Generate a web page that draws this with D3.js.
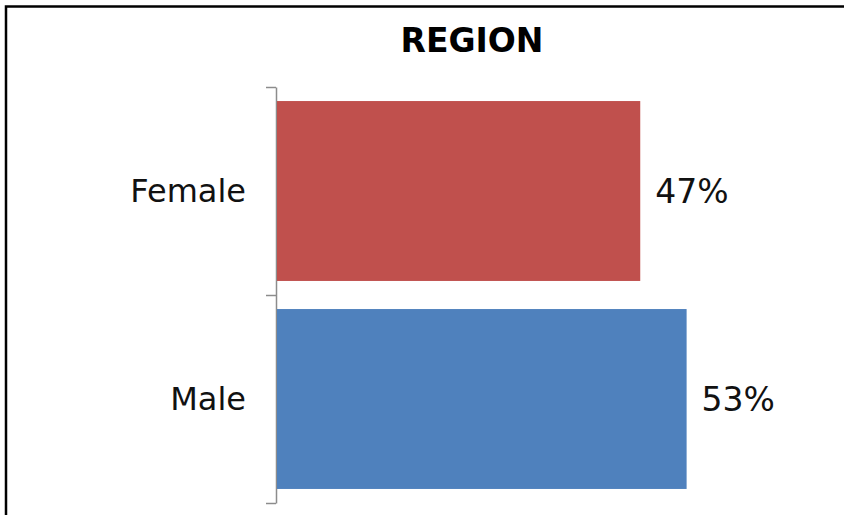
<!DOCTYPE html>
<html>
<head>
<meta charset="utf-8">
<script src="https://cdn.jsdelivr.net/npm/d3@7"></script>
<style>
  body { margin: 0; background: #fff; }
  svg { display: block; font-family: "DejaVu Sans", Verdana, sans-serif; }
</style>
</head>
<body>
<svg id="svg1" width="844" height="515"></svg>
<script>
// data
var categories = ['Female', 'Male'];
var shares = [0.47, 0.53];
var barColors = ['#C0504D', '#4F81BD'];
var title = 'REGION';

var svg = d3.select('svg');

// frame, only top and left edges are visible
svg.append('path')
    .attr('d', 'M6,515 V6.5 H844')
    .attr('fill', 'none')
    .attr('stroke', '#000')
    .attr('stroke-width', 2.5);

var x = d3.scaleLinear().domain([0, 0.7]).range([277, 818]);
var y = d3.scaleBand().domain(categories).range([87, 503]).paddingInner(0.135).paddingOuter(0.0675);

// axis with ticks on the band boundaries
var edges = d3.scaleLinear().domain([0, categories.length]).range([87, 503]);
var axis = svg.append('g')
    .attr('transform', 'translate(276,0)')
    .call(d3.axisLeft(edges).tickValues(d3.range(categories.length + 1)).tickSize(10).tickSizeOuter(0).tickFormat(''));
axis.selectAll('line, path').attr('stroke', '#8c8c8c').attr('stroke-width', 1.5);

svg.selectAll('.bar')
    .data(categories)
    .enter()
    .append('rect')
    .attr('class', 'bar')
    .attr('x', x(0))
    .attr('y', function(d){ return y(d); })
    .attr('width', function(d, i){ return x(shares[i]) - x(0); })
    .attr('height', y.bandwidth())
    .attr('fill', function(d, i){ return barColors[i]; });

// category labels
svg.selectAll('.cat')
    .data(categories)
    .enter()
    .append('text')
    .attr('x', 246)
    .attr('y', function(d){ return y(d) + y.bandwidth() / 2; })
    .attr('dy', '0.35em')
    .attr('text-anchor', 'end')
    .attr('font-size', 32)
    .attr('fill', '#111')
    .text(function(d){ return d; });

// value labels
svg.selectAll('.val')
    .data(categories)
    .enter()
    .append('text')
    .attr('x', function(d, i){ return x(shares[i]) + 15; })
    .attr('y', function(d){ return y(d) + y.bandwidth() / 2; })
    .attr('dy', '0.35em')
    .attr('font-size', 33)
    .attr('fill', '#111')
    .text(function(d, i){ return d3.format('.0%')(shares[i]); });

svg.append('text')
    .attr('x', 472)
    .attr('y', 52)
    .attr('text-anchor', 'middle')
    .attr('font-size', 33)
    .attr('font-weight', 'bold')
    .attr('fill', '#000')
    .text(title);
</script>
</body>
</html>
